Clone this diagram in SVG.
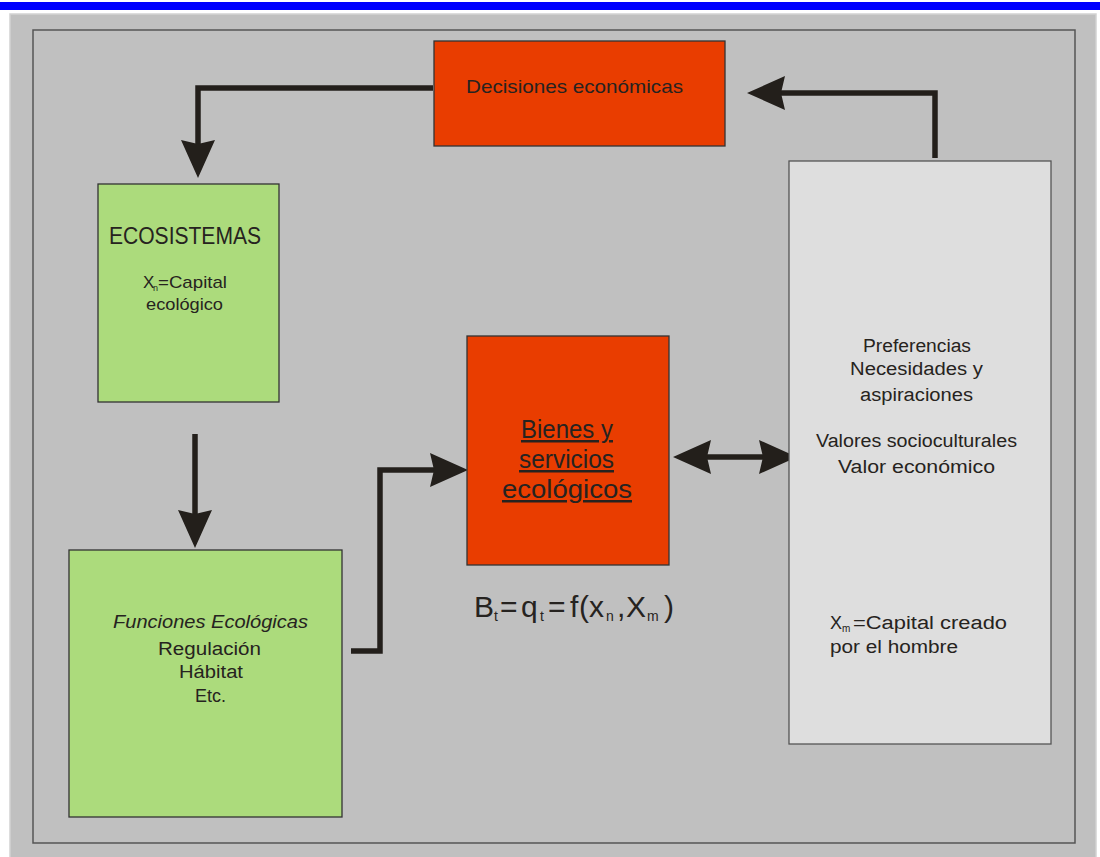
<svg xmlns="http://www.w3.org/2000/svg" width="1100" height="857" viewBox="0 0 1100 857">
  <style>
    .txt { font-family: "Liberation Sans", Arial, sans-serif; fill: #262320; }
    .box { stroke: #333; stroke-width: 1.3; }
    .eco { fill: #acdb7c; }
    .red { fill: #e93d00; }
    .soc { fill: #dedede; stroke: #555; }
    .wire { fill: none; stroke: #231f1b; stroke-width: 5.5; stroke-linejoin: miter; }
    .u { text-decoration: underline; }
  </style>
  <defs>
    <!-- barbed arrowhead, line end sits just inside the notch -->
    <marker id="head" viewBox="0 0 38 34" refX="5" refY="17" markerWidth="38" markerHeight="34" markerUnits="userSpaceOnUse" orient="auto-start-reverse">
      <path d="M0,0 L38,17 L0,34 L4,17 Z" fill="#231f1b"/>
    </marker>
  </defs>

  <!-- page -->
  <rect x="0" y="0" width="1100" height="857" fill="#ffffff"/>
  <rect x="0" y="2" width="1100" height="8" fill="#0000ff"/>
  <rect x="10" y="14" width="1086" height="850" fill="#c0c0c0" stroke="#d2d2d2" stroke-width="1.5"/>
  <rect x="33" y="30" width="1042" height="813" fill="none" stroke="#555" stroke-width="1.5"/>

  <!-- connectors -->
  <g id="connectors">
    <path class="wire" d="M433,88 H198 V145" marker-end="url(#head)"/>
    <path class="wire" d="M195,434 V515" marker-end="url(#head)"/>
    <path class="wire" d="M351,651 H380 V470 H435" marker-end="url(#head)"/>
    <path class="wire" d="M706,457 H764" marker-start="url(#head)" marker-end="url(#head)"/>
    <path class="wire" d="M935,158 V93 H780" marker-end="url(#head)"/>
  </g>

  <g id="decisiones">
    <rect class="box red" x="434" y="41" width="291" height="105"/>
    <text class="txt" x="466" y="93" font-size="19" textLength="217" lengthAdjust="spacingAndGlyphs">Decisiones económicas</text>
  </g>

  <g id="ecosistemas">
    <rect class="box eco" x="98" y="184" width="181" height="218"/>
    <text class="txt" x="109" y="244" font-size="23" textLength="152" lengthAdjust="spacingAndGlyphs">ECOSISTEMAS</text>
    <text class="txt" font-size="17">
      <tspan x="143" y="288">X</tspan>
      <tspan x="153" y="291" font-size="9">n</tspan>
      <tspan x="158" y="288" textLength="69" lengthAdjust="spacingAndGlyphs">=Capital</tspan>
    </text>
    <text class="txt" x="146" y="310" font-size="17" textLength="77" lengthAdjust="spacingAndGlyphs">ecológico</text>
  </g>

  <g id="funciones">
    <rect class="box eco" x="69" y="550" width="273" height="267"/>
    <text class="txt" x="113" y="628" font-size="18" font-style="italic" textLength="195" lengthAdjust="spacingAndGlyphs">Funciones Ecológicas</text>
    <text class="txt" x="158" y="655" font-size="18" textLength="103" lengthAdjust="spacingAndGlyphs">Regulación</text>
    <text class="txt" x="179" y="678" font-size="18" textLength="64" lengthAdjust="spacingAndGlyphs">Hábitat</text>
    <text class="txt" x="195" y="702" font-size="18" textLength="31" lengthAdjust="spacingAndGlyphs">Etc.</text>
  </g>

  <g id="bienes">
    <rect class="box red" x="467" y="336" width="202" height="229"/>
    <text class="txt u" x="521" y="438" font-size="25" textLength="92" lengthAdjust="spacingAndGlyphs">Bienes y</text>
    <text class="txt u" x="519" y="468" font-size="25" textLength="95" lengthAdjust="spacingAndGlyphs">servicios</text>
    <text class="txt u" x="502" y="498" font-size="25" textLength="130" lengthAdjust="spacingAndGlyphs">ecológicos</text>
  </g>

  <g id="formula">
    <text class="txt" font-size="30">
      <tspan x="474" y="617">B</tspan>
      <tspan x="494" y="621" font-size="14">t</tspan>
      <tspan x="500" y="617">=</tspan>
      <tspan x="521" y="617">q</tspan>
      <tspan x="540" y="621" font-size="14">t</tspan>
      <tspan x="548" y="617">=</tspan>
      <tspan x="570" y="617">f</tspan>
      <tspan x="579" y="617">(</tspan>
      <tspan x="589" y="617">x</tspan>
      <tspan x="606" y="621" font-size="14">n</tspan>
      <tspan x="617" y="617">,</tspan>
      <tspan x="626" y="617">X</tspan>
      <tspan x="647" y="621" font-size="14">m</tspan>
      <tspan x="664" y="617">)</tspan>
    </text>
  </g>

  <g id="valores">
    <rect class="soc" x="789" y="161" width="262" height="583" stroke-width="1.3"/>
    <text class="txt" x="863" y="352" font-size="18" textLength="108" lengthAdjust="spacingAndGlyphs">Preferencias</text>
    <text class="txt" x="850" y="375" font-size="18" textLength="133" lengthAdjust="spacingAndGlyphs">Necesidades y</text>
    <text class="txt" x="860" y="401" font-size="18" textLength="113" lengthAdjust="spacingAndGlyphs">aspiraciones</text>
    <text class="txt" x="816" y="447" font-size="18" textLength="201" lengthAdjust="spacingAndGlyphs">Valores socioculturales</text>
    <text class="txt" x="838" y="473" font-size="18" textLength="157" lengthAdjust="spacingAndGlyphs">Valor económico</text>
    <text class="txt" font-size="18">
      <tspan x="830" y="629">X</tspan>
      <tspan x="842" y="632" font-size="10">m</tspan>
      <tspan x="853" y="629" textLength="154" lengthAdjust="spacingAndGlyphs">=Capital creado</tspan>
    </text>
    <text class="txt" x="830" y="653" font-size="18" textLength="128" lengthAdjust="spacingAndGlyphs">por el hombre</text>
  </g>
</svg>
